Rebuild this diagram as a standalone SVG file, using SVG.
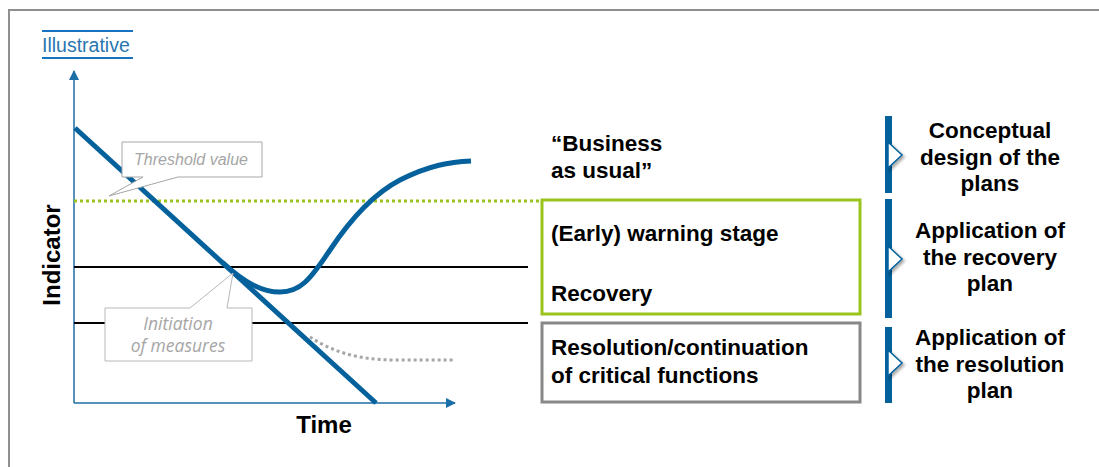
<svg xmlns="http://www.w3.org/2000/svg" width="1099" height="467" viewBox="0 0 1099 467">
<defs>
<style>
.b{font-family:"Liberation Sans",Arial,sans-serif;font-weight:bold;font-size:22.5px;fill:#000}
.ax{font-size:24px}
.c{text-anchor:middle}
.call{font-family:"Open Sans","Liberation Sans",sans-serif;font-style:italic;font-size:17.5px;fill:#a6a6a6}
.bar{fill:#04619b}
.tri{fill:#fff;stroke:#04619b;stroke-width:1.5;filter:url(#sh)}
</style>
<marker id="ah" markerWidth="10" markerHeight="10" refX="9" refY="5" orient="auto" markerUnits="userSpaceOnUse" viewBox="0 0 10 10">
<path d="M0,0 L10,5 L0,10 Z" fill="#1b6ea6"/>
</marker>
<filter id="sh" x="-50%" y="-50%" width="200%" height="200%">
<feDropShadow dx="2" dy="2" stdDeviation="1.5" flood-color="#000" flood-opacity="0.35"/>
</filter>
</defs>
<rect width="1099" height="467" fill="#fff"/>
<path d="M9,467 V10 H1099" fill="none" stroke="#8f8f8f" stroke-width="2"/>
<g id="illustrative">
<line x1="42" y1="31" x2="133" y2="31" stroke="#1573c2" stroke-width="2"/>
<line x1="42" y1="58" x2="133" y2="58" stroke="#1573c2" stroke-width="2"/>
<text x="42" y="52" font-family="'Liberation Sans',Arial,sans-serif" font-size="19.5" fill="#2a76b0">Illustrative</text>
</g>
<g id="connectors">
<line x1="74" y1="403" x2="74" y2="71" stroke="#1b6ea6" stroke-width="1.5" marker-end="url(#ah)"/>
<line x1="74" y1="403" x2="455" y2="403" stroke="#1b6ea6" stroke-width="1.5" marker-end="url(#ah)"/>
<line x1="74" y1="201" x2="541" y2="201" stroke="#9ac31c" stroke-width="3" stroke-dasharray="3,3"/>
<line x1="74" y1="267" x2="528" y2="267" stroke="#000" stroke-width="2"/>
<line x1="74" y1="323" x2="528" y2="323" stroke="#000" stroke-width="2"/>
<path d="M310,337 C330,350 355,360 395,360 L455,360" fill="none" stroke="#a6a6a6" stroke-width="3" stroke-dasharray="3,3"/>
<line x1="75" y1="128" x2="376" y2="403" stroke="#04619b" stroke-width="5"/>
<path d="M222,262 C245,283 262,292 280,292 C300,292 310,280 330,250 C350,220 375,193 400,180 C430,165 450,162 471,161" fill="none" stroke="#04619b" stroke-width="5"/>
</g>
<g id="threshold">
<path d="M122,142 H262 V177 H178 L109,196 L143,177 H122 Z" fill="#fff" stroke="#a6a6a6" stroke-width="1"/>
<text x="191" y="165" class="c" font-family="'Liberation Sans',Arial,sans-serif" font-style="italic" font-size="16" fill="#a6a6a6">Threshold value</text>
</g>
<g id="initiation">
<path d="M105,308 H190 L233,273 L227,308 H252 V361 H105 Z" fill="#fff" stroke="#b8b8b8" stroke-width="1"/>
<text x="178" y="330" class="call c">Initiation</text>
<text x="178" y="352" class="call c">of measures</text>
</g>
<text x="324" y="433" class="b ax c">Time</text>
<text transform="translate(60,255) rotate(-90)" class="b ax c">Indicator</text>
<g id="business">
<text x="551" y="151" class="b">“Business</text>
<text x="551" y="178" class="b">as usual”</text>
</g>
<g id="warning">
<rect x="542" y="200" width="318" height="114" fill="none" stroke="#9ac31c" stroke-width="3"/>
<text x="551" y="241" class="b">(Early) warning stage</text>
<text x="551" y="301" class="b">Recovery</text>
</g>
<g id="resolution">
<rect x="542" y="323" width="318" height="79" fill="none" stroke="#888" stroke-width="3"/>
<text x="551" y="355" class="b">Resolution/continuation</text>
<text x="551" y="383" class="b">of critical functions</text>
</g>
<g id="conceptual">
<rect x="885" y="116" width="7" height="77" class="bar"/>
<path d="M888,142 L902,155 L888,168 Z" class="tri"/>
<text x="990" y="138" class="b c">Conceptual</text>
<text x="990" y="165" class="b c">design of the</text>
<text x="990" y="191" class="b c">plans</text>
</g>
<g id="recovery-plan">
<rect x="885" y="199" width="7" height="119" class="bar"/>
<path d="M888,246 L902,259 L888,272 Z" class="tri"/>
<text x="990" y="238" class="b c">Application of</text>
<text x="990" y="265" class="b c">the recovery</text>
<text x="990" y="291" class="b c">plan</text>
</g>
<g id="resolution-plan">
<rect x="885" y="327" width="7" height="76" class="bar"/>
<path d="M888,350 L902,363 L888,376 Z" class="tri"/>
<text x="990" y="345" class="b c">Application of</text>
<text x="990" y="372" class="b c">the resolution</text>
<text x="990" y="398" class="b c">plan</text>
</g>
</svg>
